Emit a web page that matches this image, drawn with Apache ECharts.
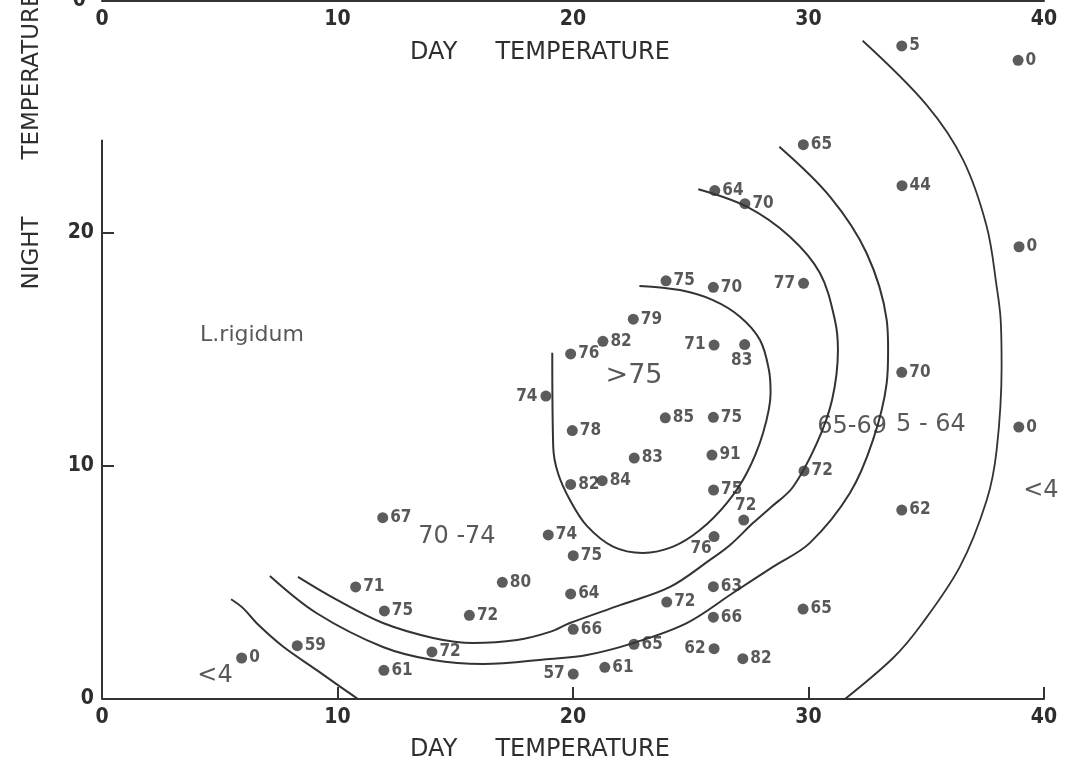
<!DOCTYPE html>
<html><head><meta charset="utf-8">
<script src="https://cdn.jsdelivr.net/npm/echarts@6/dist/echarts.min.js"></script>
<style>html,body{margin:0;padding:0;background:#fff}#c{width:1083px;height:769px}</style>
</head><body><div id="c"></div>
<script>
// ---- data ----
const dayTicks = [0, 10, 20, 30, 40];
const nightTicks = [0, 10, 20];
const nightAxisTop = 24;

const pointX = [33.96,38.9,29.78,33.97,38.94,26.02,27.3,23.95,25.96,29.79,22.56,21.27,19.9,25.99,27.29,18.85,33.96,38.93,23.92,25.96,19.97,22.6,25.9,19.9,21.24,25.97,27.25,29.81,33.96,11.92,18.95,20.01,25.99,17.0,10.77,19.9,25.96,11.99,15.6,23.98,29.77,25.96,20.01,8.29,14.01,22.59,25.99,27.21,5.93,11.97,21.35,20.01];
const pointY = [28.03,27.41,23.79,22.03,19.41,21.82,21.26,17.95,17.67,17.84,16.3,15.35,14.81,15.19,15.21,13.0,14.02,11.67,12.07,12.09,11.52,10.34,10.47,9.21,9.37,8.97,7.68,9.79,8.11,7.78,7.04,6.15,6.97,5.01,4.81,4.51,4.82,3.78,3.59,4.16,3.86,3.51,2.99,2.29,2.02,2.35,2.16,1.73,1.76,1.23,1.36,1.07];
const pointValue = ['5','0','65','44','0','64','70','75','70','77','79','82','76','71','83','74','70','0','85','75','78','83','91','82','84','75','72','72','62','67','74','75','76','80','71','64','63','75','72','72','65','66','66','59','72','65','62','82','0','61','61','57'];

// contour lines [day, night]
const contourOver75 = [[19.12,14.86],[19.16,10.83],[19.36,9.7],[19.87,8.54],[20.58,7.44],[21.7,6.54],[22.97,6.27],[24.25,6.54],[25.39,7.25],[26.53,8.41],[27.38,9.7],[28.07,11.42],[28.39,13.13],[28.32,14.12],[27.94,15.41],[27.09,16.41],[25.94,17.12],[24.54,17.55],[22.82,17.73]];
const contour70 = [[25.32,21.88],[27.38,21.13],[29.21,19.84],[30.49,18.27],[31.12,16.27],[31.25,14.98],[31.0,12.83],[30.36,10.99],[29.34,9.1],[28.37,8.2],[27.64,7.55],[26.67,6.61],[25.82,5.97],[24.12,4.81],[22.0,4.03],[19.87,3.26],[19.02,2.88],[17.62,2.53],[15.75,2.4],[14.06,2.62],[11.93,3.26],[9.98,4.25],[8.32,5.24]];
const contour65 = [[28.76,23.7],[30.91,21.56],[32.47,19.13],[33.32,16.27],[33.38,14.98],[33.32,13.56],[32.74,11.12],[31.76,8.84],[30.06,6.7],[28.49,5.67],[26.79,4.55],[24.83,3.26],[22.55,2.4],[20.59,1.89],[19.02,1.72],[16.18,1.5],[14.06,1.67],[11.93,2.23],[9.12,3.68],[7.13,5.28]];
const contour5 = [[32.3,28.25],[35.02,25.49],[36.57,23.13],[37.57,20.27],[37.99,17.7],[38.16,16.27],[38.2,14.26],[37.99,10.69],[37.57,8.54],[36.43,5.68],[34.73,3.11],[33.59,1.76],[31.55,0]];
const contourLowLeft = [[5.48,4.28],[6.0,3.89],[6.57,3.25],[7.7,2.24],[9.12,1.24],[10.11,0.53],[10.87,0]];

const regionText = ['>75', '70 -74', '65-69', '5 - 64', '<4', '<4', 'L.rigidum'];
const regionX = [22.59, 15.07, 31.85, 35.2, 4.8, 39.87, 6.37];
const regionY = [13.86, 6.95, 11.67, 11.76, 0.99, 8.93, 15.62];

// ---- styles ----
const ink = '#333333';
const txt = '#2e2e2e';
const font = 'DejaVu Sans';
const condensed = 'DejaVu Sans Condensed';
const leftIdx = [9, 13, 15, 46, 51];
const regionFontSize = [27, 24, 24, 24, 24, 24, 22];

const pointData = pointX.map((x, i) => {
  const item = { value: [x, pointY[i], pointValue[i]] };
  if (leftIdx.includes(i)) item.label = { position: 'left', distance: 3 };
  if (i === 14) item.label = { position: 'bottom', distance: 2, offset: [-3, 0] };
  if (i === 26) item.label = { position: 'top', distance: 0, offset: [2, 0] };
  if (i === 32) item.label = { position: 'bottom', distance: 0, offset: [-13, -2] };
  return item;
});

const regionData = regionText.map((t, i) => ({
  value: [regionX[i], regionY[i], t],
  label: { fontSize: regionFontSize[i] }
}));

function contourSeries(name, pts, w) {
  return {
    name, type: 'line', data: pts, xAxisIndex: 0, yAxisIndex: 0,
    showSymbol: false, symbol: 'none', smooth: 0.35, silent: true,
    lineStyle: { color: ink, width: w }, z: 2
  };
}

const titleStyle = { fontFamily: font, fontSize: 24, color: txt, padding: [0, 66, 0, 0] };
const tickLabelStyle = { fontFamily: condensed, fontWeight: 'bold', fontSize: 21, color: txt };

const chart = echarts.init(document.getElementById('c'), null, { renderer: 'canvas' });
chart.setOption({
  animation: false,
  backgroundColor: '#fff',
  grid: [
    { left: 102, right: 39, top: 0, bottom: 70, outerBoundsMode: 'none', containLabel: false },
    { left: 102, right: 39, top: -50, height: 51, outerBoundsMode: 'none', containLabel: false }
  ],
  xAxis: [
    {
      gridIndex: 0, type: 'value', min: 0, max: 40, interval: 10,
      name: 'DAY     TEMPERATURE', nameLocation: 'middle', nameGap: 39,
      nameTextStyle: titleStyle,
      axisLine: { lineStyle: { color: ink, width: 2 } },
      axisTick: { inside: true, length: 12, lineStyle: { color: ink, width: 2 } },
      axisLabel: Object.assign({ margin: 8 }, tickLabelStyle),
      splitLine: { show: false }
    },
    {
      gridIndex: 1, type: 'value', min: 0, max: 40, interval: 10,
      name: 'DAY     TEMPERATURE', nameLocation: 'middle', nameGap: 40,
      nameTextStyle: titleStyle,
      axisLine: { lineStyle: { color: ink, width: 2 } },
      axisTick: { show: false },
      axisLabel: Object.assign({ margin: 8 }, tickLabelStyle),
      splitLine: { show: false }
    }
  ],
  yAxis: [
    {
      gridIndex: 0, type: 'value', min: 0, max: 30, interval: 10,
      axisLine: { show: false },
      axisTick: { show: true, inside: true, length: 12, customValues: [10, 20], lineStyle: { color: ink, width: 2 } },
      axisLabel: Object.assign({ customValues: nightTicks, margin: 8 }, tickLabelStyle),
      splitLine: { show: false }
    },
    {
      gridIndex: 1, type: 'value', min: 0, max: 10, interval: 10,
      axisLine: { show: false }, axisTick: { show: false },
      axisLabel: Object.assign({ customValues: [0], margin: 16 }, tickLabelStyle),
      splitLine: { show: false }
    }
  ],
  graphic: [
    { type: 'text', x: 32, y: 253, rotation: Math.PI / 2,
      style: { text: 'NIGHT', fontFamily: font, fontSize: 23, fill: txt, align: 'center', verticalAlign: 'middle' } },
    { type: 'text', x: 32, y: 76, rotation: Math.PI / 2,
      style: { text: 'TEMPERATURE', fontFamily: font, fontSize: 23, fill: txt, align: 'center', verticalAlign: 'middle' } }
  ],
  series: [
    {
      type: 'line', name: 'night axis', xAxisIndex: 0, yAxisIndex: 0,
      data: [[0, 0], [0, nightAxisTop]], symbol: 'none', silent: true,
      lineStyle: { color: ink, width: 2 }, z: 1
    },
    {
      type: 'line', name: 'top axis', xAxisIndex: 1, yAxisIndex: 1,
      data: [], symbol: 'none'
    },
    contourSeries('>75', contourOver75, 2),
    contourSeries('70-74', contour70, 2),
    contourSeries('65-69', contour65, 2),
    contourSeries('5-64', contour5, 1.8),
    contourSeries('<4', contourLowLeft, 2),
    {
      type: 'scatter', name: 'points', xAxisIndex: 0, yAxisIndex: 0,
      data: pointData, symbol: 'circle', symbolSize: 11, z: 5,
      itemStyle: { color: ink },
      label: {
        show: true, position: 'right', distance: 2,
        formatter: p => p.value[2],
        fontFamily: condensed, fontWeight: 'bold', fontSize: 17, color: txt
      }
    },
    {
      type: 'scatter', name: 'regions', xAxisIndex: 0, yAxisIndex: 0,
      data: regionData, symbol: 'circle', symbolSize: 1, z: 6, silent: true,
      itemStyle: { color: 'rgba(0,0,0,0)' },
      label: {
        show: true, position: 'inside', formatter: p => p.value[2],
        fontFamily: font, color: txt
      }
    }
  ]
});
</script></body></html>
